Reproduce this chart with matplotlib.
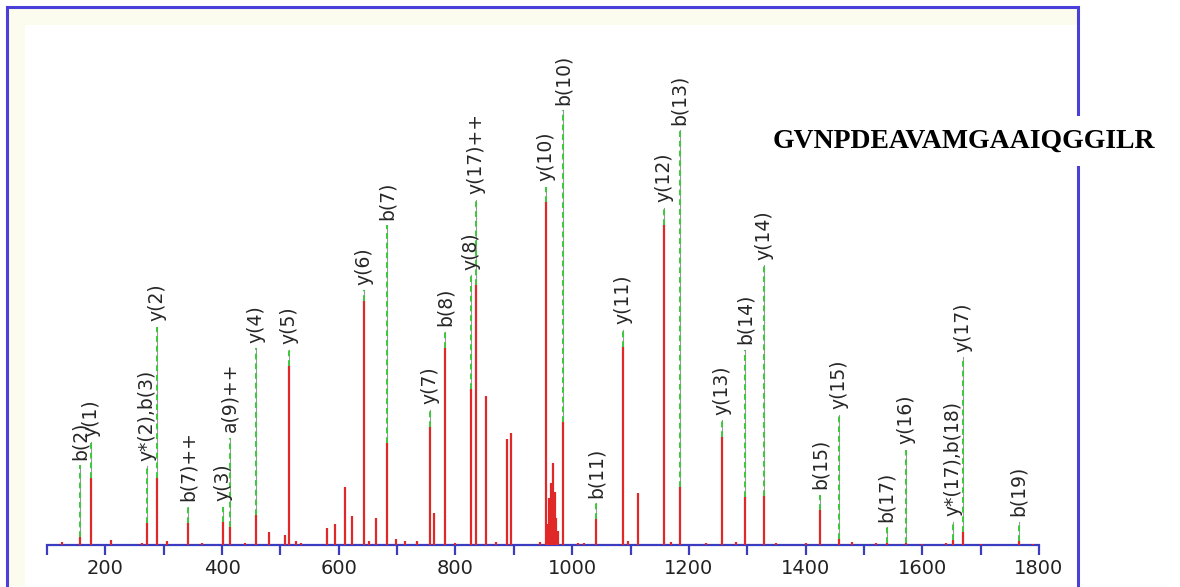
import matplotlib.pyplot as plt
from matplotlib.lines import Line2D
from matplotlib.patches import Rectangle
from matplotlib.ticker import MultipleLocator

# peak list (m/z, % of base peak)
peak_mz = [126, 157, 175, 209, 262, 271, 288, 305, 342, 365, 401, 413, 440, 458, 480,
           508, 515, 527, 535, 580, 593, 610, 623, 643, 652, 663, 683, 698, 714, 734,
           756, 763, 782, 800, 827, 835, 853, 870, 889, 896, 945, 955, 958, 960, 962,
           964, 967, 970, 973, 976, 984, 1010, 1020, 1041, 1087, 1095, 1112, 1158, 1170,
           1184, 1230, 1257, 1280, 1297, 1328, 1350, 1400, 1425, 1457, 1480, 1520, 1539,
           1572, 1600, 1640, 1652, 1669, 1700, 1765, 1790]
peak_int = [0.8, 2.3, 19.5, 1.5, 0.6, 6.4, 19.5, 1.2, 6.4, 0.5, 6.7, 5.2, 0.6, 8.7, 3.8,
            2.9, 52.2, 1.2, 0.6, 5.0, 6.1, 16.9, 8.5, 71.1, 1.2, 7.9, 29.7, 1.7, 1.2, 1.2,
            34.4, 9.3, 57.4, 0.6, 45.5, 75.8, 43.4, 0.8, 30.9, 32.7, 1.0, 100, 6.0, 13.7, 10.0,
            18.0, 23.9, 15.5, 8.0, 4.0, 35.9, 0.6, 0.6, 7.6, 57.7, 1.2, 15.2, 93.3, 0.8,
            16.9, 0.6, 31.5, 0.8, 14.0, 14.3, 0.6, 0.5, 10.2, 1.7, 1.0, 0.5, 0.6,
            0.6, 0.4, 0.5, 1.5, 3.8, 0.4, 1.2, 0.4]

# matched fragment ions
ion_labels = ['b(2)', 'y(1)', 'y*(2),b(3)', 'y(2)', 'b(7)++', 'y(3)', 'a(9)++', 'y(4)',
              'y(5)', 'y(6)', 'b(7)', 'y(7)', 'b(8)', 'y(8)', 'y(17)++', 'y(10)', 'b(10)',
              'b(11)', 'y(11)', 'y(12)', 'b(13)', 'y(13)', 'b(14)', 'y(14)', 'b(15)',
              'y(15)', 'b(17)', 'y(16)', 'y*(17),b(18)', 'y(17)', 'b(19)']
ion_mz = [157, 175, 271, 288, 342, 401, 413, 458, 515, 643, 683, 756, 782, 827, 835, 955,
          984, 1041, 1087, 1158, 1184, 1257, 1297, 1328, 1425, 1457, 1539, 1572, 1652,
          1669, 1765]
label_level = [23.3, 30.0, 23.0, 63.6, 11.1, 11.1, 31.2, 57.4, 56.9, 74.3, 93.3, 39.4,
               62.1, 78.7, 100.6, 104.4, 126.8, 12.2, 62.7, 98.3, 121.0, 36.4, 56.9, 81.6,
               14.6, 37.9, 5.2, 27.7, 6.7, 54.8, 6.7]

sequence = 'GVNPDEAVAMGAAIQGGILR'

W, H = 1180, 587
fig = plt.figure(figsize=(W / 100, H / 100), dpi=100)

# frame of the original viewer
def px(x, y):
    return x / W, 1 - y / H

fig.add_artist(Rectangle(px(9, 586), 16 / W, 577 / H, color='#fbfbee', lw=0))
fig.add_artist(Rectangle(px(9, 25), 1068 / W, 16 / H, color='#fbfbee', lw=0))
blue = '#4a3fd8'
for (x0, y0), (x1, y1) in [((7, 7), (1078, 7)), ((7, 7), (7, 587)), ((1078, 7), (1078, 587))]:
    a, b = px(x0, y0)
    c, d = px(x1, y1)
    fig.add_artist(Line2D([a, c], [b, d], color=blue, lw=2.2))

ax = fig.add_axes([47 / W, (H - 545) / H, (1039 - 47) / W, (545 - 8) / H])
ax.set_facecolor('none')
ax.set_xlim(100, 1800)
ax.set_ylim(0, 156.6)

ax.vlines(peak_mz, 0, peak_int, color='#e02828', lw=1.6, zorder=3)

lookup = dict(zip(peak_mz, peak_int))
for lab, m, lev in zip(ion_labels, ion_mz, label_level):
    top = lookup.get(m, 0)
    ax.plot([m, m], [top, lev], color='#9a9a9a', lw=0.8, zorder=2)
    ax.plot([m, m], [top, lev], color='#3cc83c', lw=1.4, ls=(0, (3, 2)), zorder=2)
    ax.annotate(lab, (m, lev), xytext=(0, 4), textcoords='offset points',
                rotation=90, ha='center', va='bottom', fontsize=13.5,
                color='#262626', family='DejaVu Sans')

for s in ['top', 'left', 'right']:
    ax.spines[s].set_visible(False)
ax.spines['bottom'].set_color('#3c3cc0')
ax.spines['bottom'].set_linewidth(1.6)
ax.set_yticks([])
ax.xaxis.set_major_locator(MultipleLocator(200))
ax.xaxis.set_minor_locator(MultipleLocator(100))
ax.tick_params(axis='x', which='both', direction='out', length=7, width=1.6,
               color='#3c3cc0', labelsize=14, labelcolor='#222222', pad=3)

fig.text(773 / W, 1 - 141 / H, sequence, fontsize=20, fontweight='bold',
         family='Liberation Serif', va='center', ha='left',
         bbox=dict(facecolor='white', edgecolor='none', pad=9))

fig.savefig('out.png', dpi=100, facecolor='white')
